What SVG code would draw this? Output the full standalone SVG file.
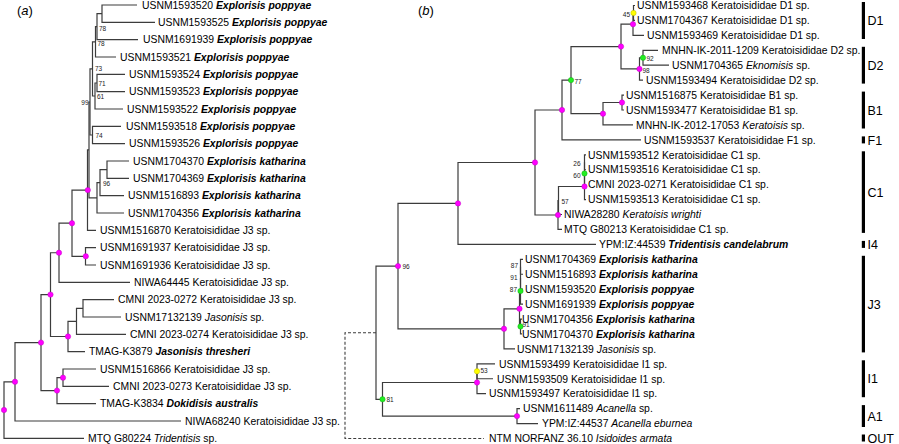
<svg xmlns="http://www.w3.org/2000/svg" width="899" height="444" viewBox="0 0 899 444">
<style>
text{font-family:"Liberation Sans",Arial,Helvetica,sans-serif;fill:#000}
.t{font-size:10.4px}
.bi{font-weight:bold;font-style:italic}
.i{font-style:italic}
.s{font-size:6.5px;fill:#222}
.pl{font-size:13px}
.cl{font-size:12.5px}
.br{stroke:#3c3c3c;stroke-width:1.2;fill:none}
.ds{stroke:#3c3c3c;stroke-width:1.1;fill:none;stroke-dasharray:3 2}
.mg{fill:#ff00ff;stroke:#b400b4;stroke-width:0.4}
.gr{fill:#22ee22;stroke:#119911;stroke-width:0.4}
.yl{fill:#ffff00;stroke:#aaaa00;stroke-width:0.4}
.bar{stroke:#000;stroke-width:3.2}
</style>

<text class="pl" x="17" y="14.5">(<tspan class="i">a</tspan>)</text>
<text class="pl" x="418" y="14.5">(<tspan class="i">b</tspan>)</text>

<!-- ===== Panel (a) connectors ===== -->
<g id="connectors-a">
<path class="br" d="M137,5 H102 V22.3 H155"/>
<path class="br" d="M102,13.65 H97 V39.7 H138"/>
<path class="br" d="M97,26.7 H95.5 V57 H116"/>
<path class="br" d="M125,74.3 H97 V91.7 H125"/>
<path class="br" d="M97,83 H95 V109 H123"/>
<path class="br" d="M95.5,41.85 H92.5 V96 H95"/>
<path class="br" d="M121,126.3 H92.5 V143.6 H125"/>
<path class="br" d="M92.5,68.9 H90 V135 H92.5"/>
<path class="br" d="M129,161 H107 V178.3 H129"/>
<path class="br" d="M107,169.65 H100 V195.6 H124"/>
<path class="br" d="M100,182.6 H97 V213 H124"/>
<path class="br" d="M90,102 H89 V197.8 H97"/>
<path class="br" d="M89,149.9 H87.5 V230.3 H96"/>
<path class="br" d="M96,247.6 H85.5 V265 H96"/>
<path class="br" d="M87.5,190.1 H72 V256.3 H85.5"/>
<path class="br" d="M72,223.2 H59 V282.3 H130"/>
<path class="br" d="M114,299.6 H83 V317 H121"/>
<path class="br" d="M83,308.3 H76.5 V334.3 H126"/>
<path class="br" d="M76.5,321.3 H68 V351.6 H85"/>
<path class="br" d="M59,252.75 H50.5 V336.5 H68"/>
<path class="br" d="M96,369 H63 V386.3 H109"/>
<path class="br" d="M63,377.65 H57 V403.6 H96"/>
<path class="br" d="M50.5,294.6 H41 V390.6 H57"/>
<path class="br" d="M41,342.6 H15 V421 H181"/>
<path class="br" d="M15,381.8 H4 V438.3 H84"/>
</g>

<!-- Panel (a) internal nodes -->
<g id="a-nodes">
<g id="a-n-B"><text class="s" x="99" y="30.5">78</text></g>
<g id="a-n-C"><text class="s" x="97.5" y="45.5">78</text></g>
<g id="a-n-F"><text class="s" x="95" y="71">73</text></g>
<g id="a-n-D"><text class="s" x="98.5" y="85.5">71</text></g>
<g id="a-n-E"><text class="s" x="97" y="99">61</text></g>
<g id="a-n-H"><text class="s" x="88.5" y="105" text-anchor="end">99</text></g>
<g id="a-n-G"><text class="s" x="95.5" y="138">74</text></g>
<g id="a-n-J"><text class="s" x="103" y="185.5">96</text></g>
<g id="a-n-Q"><circle class="mg" cx="87.8" cy="190.1" r="2.7"/></g>
<g id="a-n-R"><circle class="mg" cx="85.8" cy="256.3" r="2.7"/></g>
<g id="a-n-S"><circle class="mg" cx="72" cy="223.2" r="2.7"/></g>
<g id="a-n-T"><circle class="mg" cx="59" cy="252.75" r="2.7"/></g>
<g id="a-n-U"><circle class="mg" cx="68" cy="336.5" r="2.7"/></g>
<g id="a-n-X"><circle class="mg" cx="50.5" cy="294.6" r="2.7"/></g>
<g id="a-n-AA"><circle class="mg" cx="63" cy="377.65" r="2.7"/></g>
<g id="a-n-Z"><circle class="mg" cx="57" cy="390.6" r="2.7"/></g>
<g id="a-n-Y"><circle class="mg" cx="41" cy="342.6" r="2.7"/></g>
<g id="a-n-BB"><circle class="mg" cx="15" cy="381.8" r="2.7"/></g>
<g id="a-n-CC"><circle class="mg" cx="4" cy="410" r="2.7"/></g>
</g>

<!-- Panel (a) tips -->
<g id="a-tips">
<g id="a-t1"><text class="t" x="142" y="8.7">USNM1593520 <tspan class="bi">Explorisis poppyae</tspan></text></g>
<g id="a-t2"><text class="t" x="158" y="26">USNM1593525 <tspan class="bi">Explorisis poppyae</tspan></text></g>
<g id="a-t3"><text class="t" x="143" y="43.4">USNM1691939 <tspan class="bi">Explorisis poppyae</tspan></text></g>
<g id="a-t4"><text class="t" x="120" y="60.7">USNM1593521 <tspan class="bi">Explorisis poppyae</tspan></text></g>
<g id="a-t5"><text class="t" x="129" y="78">USNM1593524 <tspan class="bi">Explorisis poppyae</tspan></text></g>
<g id="a-t6"><text class="t" x="129" y="95.4">USNM1593523 <tspan class="bi">Explorisis poppyae</tspan></text></g>
<g id="a-t7"><text class="t" x="127" y="112.7">USNM1593522 <tspan class="bi">Explorisis poppyae</tspan></text></g>
<g id="a-t8"><text class="t" x="126" y="130">USNM1593518 <tspan class="bi">Explorisis poppyae</tspan></text></g>
<g id="a-t9"><text class="t" x="129" y="147.3">USNM1593526 <tspan class="bi">Explorisis poppyae</tspan></text></g>
<g id="a-t10"><text class="t" x="133" y="164.7">USNM1704370 <tspan class="bi">Explorisis katharina</tspan></text></g>
<g id="a-t11"><text class="t" x="133" y="182">USNM1704369 <tspan class="bi">Explorisis katharina</tspan></text></g>
<g id="a-t12"><text class="t" x="128" y="199.3">USNM1516893 <tspan class="bi">Explorisis katharina</tspan></text></g>
<g id="a-t13"><text class="t" x="128" y="216.7">USNM1704356 <tspan class="bi">Explorisis katharina</tspan></text></g>
<g id="a-t14"><text class="t" x="100" y="234">USNM1516870 Keratoisididae J3 sp.</text></g>
<g id="a-t15"><text class="t" x="100" y="251.3">USNM1691937 Keratoisididae J3 sp.</text></g>
<g id="a-t16"><text class="t" x="100" y="268.7">USNM1691936 Keratoisididae J3 sp.</text></g>
<g id="a-t17"><text class="t" x="134" y="286">NIWA64445 Keratoisididae J3 sp.</text></g>
<g id="a-t18"><text class="t" x="118" y="303.3">CMNI 2023-0272 Keratoisididae J3 sp.</text></g>
<g id="a-t19"><text class="t" x="125" y="320.7">USNM17132139 <tspan class="i">Jasonisis</tspan> sp.</text></g>
<g id="a-t20"><text class="t" x="130" y="338">CMNI 2023-0274 Keratoisididae J3 sp.</text></g>
<g id="a-t21"><text class="t" x="89" y="355.3">TMAG-K3879 <tspan class="bi">Jasonisis thresheri</tspan></text></g>
<g id="a-t22"><text class="t" x="100" y="372.7">USNM1516866 Keratoisididae J3 sp.</text></g>
<g id="a-t23"><text class="t" x="113" y="390">CMNI 2023-0273 Keratoisididae J3 sp.</text></g>
<g id="a-t24"><text class="t" x="100" y="407.3">TMAG-K3834 <tspan class="bi">Dokidisis australis</tspan></text></g>
<g id="a-t25"><text class="t" x="185" y="424.7">NIWA68240 Keratoisididae J3 sp.</text></g>
<g id="a-t26"><text class="t" x="88" y="442">MTQ G80224 <tspan class="i">Tridentisis</tspan> sp.</text></g>
</g>

<!-- ===== Panel (b) connectors ===== -->
<g id="connectors-b">
<path class="br" d="M635,5.5 H633.5 V20.43 H635"/>
<path class="br" d="M633.5,12.97 H633 V35.36 H644"/>
<path class="br" d="M658,50.29 H643 V65.22 H669"/>
<path class="br" d="M643,57.76 H639.5 V80.15 H643"/>
<path class="br" d="M633,24.17 H621 V68.96 H639.5"/>
<path class="br" d="M624,95.08 H622 V110.01 H624"/>
<path class="br" d="M622,102.5 H603 V124.94 H633"/>
<path class="br" d="M621,46.56 H571 V113.7 H603"/>
<path class="br" d="M571,80.1 H562 V139.87 H641"/>
<path class="br" d="M586,154.8 H584.5 V169.73 H586"/>
<path class="br" d="M584.5,162.27 V184.66 H586"/>
<path class="br" d="M584.5,173.46 V199.59 H586"/>
<path class="br" d="M584.5,186.5 H558.5 V214.52 H562"/>
<path class="br" d="M558.5,200.5 H558 V229.45 H562"/>
<path class="br" d="M562,110 H535 V215 H558"/>
<path class="br" d="M535,162.5 H458 V244.38 H596"/>
<path class="br" d="M523,259.31 H520.5 V274.24 H523"/>
<path class="br" d="M520.5,266.8 V289.17 H523"/>
<path class="br" d="M520.5,278 V304.1 H523"/>
<path class="br" d="M522,319.03 H520.5 V333.96 H522"/>
<path class="br" d="M520.5,291 H519.5 V326.5 H520.5"/>
<path class="br" d="M519.5,308.8 H504 V348.89 H515"/>
<path class="br" d="M458,203.4 H398 V328.8 H504"/>
<path class="br" d="M495,363.82 H477 V378.75 H493"/>
<path class="br" d="M477,371.3 V393.68 H486"/>
<path class="br" d="M520,408.61 H517 V423.54 H538"/>
<path class="br" d="M477,382.5 H382.5 V416.1 H517"/>
<path class="br" d="M398,266.1 H376 V399.3 H382.5"/>
<path class="ds" d="M376,332.7 H345 V438.47 H484"/>
</g>

<!-- Panel (b) internal nodes -->
<g id="b-nodes">
<g id="b-n-12"><circle class="yl" cx="633.5" cy="12.97" r="2.7"/><text class="s" x="630" y="16.5" text-anchor="end">45</text></g>
<g id="b-n-D1"><circle class="mg" cx="633" cy="24.17" r="2.7"/></g>
<g id="b-n-45"><circle class="gr" cx="643" cy="57.76" r="2.7"/><text class="s" x="646.5" y="61">92</text></g>
<g id="b-n-D2"><circle class="mg" cx="639.5" cy="68.96" r="2.7"/><text class="s" x="642.5" y="73">98</text></g>
<g id="b-n-DD"><circle class="mg" cx="621" cy="46.56" r="2.7"/></g>
<g id="b-n-78"><circle class="mg" cx="622" cy="102.5" r="2.7"/></g>
<g id="b-n-B1"><circle class="mg" cx="603" cy="113.7" r="2.7"/></g>
<g id="b-n-EE"><circle class="gr" cx="571" cy="80.1" r="2.7"/><text class="s" x="574.5" y="83.5">77</text></g>
<g id="b-n-FF"><circle class="mg" cx="562" cy="110" r="2.7"/></g>
<g id="b-n-c12"><text class="s" x="580.5" y="166" text-anchor="end">26</text></g>
<g id="b-n-c13"><circle class="gr" cx="584.5" cy="173.46" r="2.7"/><text class="s" x="580.5" y="177.5" text-anchor="end">60</text></g>
<g id="b-n-c14"><circle class="mg" cx="584.5" cy="186.5" r="2.7"/></g>
<g id="b-n-c15"><text class="s" x="561.5" y="203.5">57</text></g>
<g id="b-n-c16"><circle class="mg" cx="558" cy="215" r="2.7"/></g>
<g id="b-n-GG"><circle class="mg" cx="535" cy="162.5" r="2.7"/></g>
<g id="b-n-HH"><circle class="mg" cx="458" cy="203.4" r="2.7"/></g>
<g id="b-n-j19"><text class="s" x="518" y="268" text-anchor="end">87</text></g>
<g id="b-n-j20"><text class="s" x="517.5" y="280" text-anchor="end">91</text></g>
<g id="b-n-j21"><circle class="gr" cx="520.5" cy="291" r="2.7"/><text class="s" x="517" y="292" text-anchor="end">87</text></g>
<g id="b-n-j23"><circle class="gr" cx="520.5" cy="326.5" r="2.7"/><text class="s" x="522.5" y="327">91</text></g>
<g id="b-n-KK"><circle class="mg" cx="519.5" cy="308.8" r="2.7"/></g>
<g id="b-n-JJ"><circle class="mg" cx="504" cy="328.8" r="2.7"/></g>
<g id="b-n-II"><circle class="mg" cx="398" cy="266.1" r="2.7"/><text class="s" x="402.5" y="268.5">96</text></g>
<g id="b-n-i26"><circle class="yl" cx="477" cy="371.3" r="2.7"/><text class="s" x="480.5" y="373">53</text></g>
<g id="b-n-i27"><circle class="mg" cx="477" cy="382.5" r="2.7"/></g>
<g id="b-n-a29"><circle class="mg" cx="517" cy="416.1" r="2.7"/></g>
<g id="b-n-LL"><circle class="gr" cx="382.5" cy="399.3" r="2.7"/><text class="s" x="386.5" y="402">81</text></g>
</g>

<!-- Panel (b) tips -->
<g id="b-tips">
<g id="b-t1"><text class="t" x="637" y="9.2">USNM1593468 Keratoisididae D1 sp.</text></g>
<g id="b-t2"><text class="t" x="637" y="24.1">USNM1704367 Keratoisididae D1 sp.</text></g>
<g id="b-t3"><text class="t" x="647" y="39.1">USNM1593469 Keratoisididae D1 sp.</text></g>
<g id="b-t4"><text class="t" x="662" y="54">MNHN-IK-2011-1209 Keratoisididae D2 sp.</text></g>
<g id="b-t5"><text class="t" x="672" y="68.9">USNM1704365 <tspan class="i">Eknomisis</tspan> sp.</text></g>
<g id="b-t6"><text class="t" x="646" y="83.9">USNM1593494 Keratoisididae D2 sp.</text></g>
<g id="b-t7"><text class="t" x="626" y="98.8">USNM1516875 Keratoisididae B1 sp.</text></g>
<g id="b-t8"><text class="t" x="626" y="113.7">USNM1593477 Keratoisididae B1 sp.</text></g>
<g id="b-t9"><text class="t" x="636" y="128.6">MNHN-IK-2012-17053 <tspan class="i">Keratoisis</tspan> sp.</text></g>
<g id="b-t10"><text class="t" x="644" y="143.6">USNM1593537 Keratoisididae F1 sp.</text></g>
<g id="b-t11"><text class="t" x="588" y="158.5">USNM1593512 Keratoisididae C1 sp.</text></g>
<g id="b-t12"><text class="t" x="588" y="173.4">USNM1593516 Keratoisididae C1 sp.</text></g>
<g id="b-t13"><text class="t" x="588" y="188.4">CMNI 2023-0271 Keratoisididae C1 sp.</text></g>
<g id="b-t14"><text class="t" x="588" y="203.3">USNM1593513 Keratoisididae C1 sp.</text></g>
<g id="b-t15"><text class="t" x="564" y="218.2">NIWA28280 <tspan class="i">Keratoisis wrighti</tspan></text></g>
<g id="b-t16"><text class="t" x="564" y="233.2">MTQ G80213 Keratoisididae C1 sp.</text></g>
<g id="b-t17"><text class="t" x="599" y="248.1">YPM:IZ:44539 <tspan class="bi">Tridentisis candelabrum</tspan></text></g>
<g id="b-t18"><text class="t" x="525" y="263">USNM1704369 <tspan class="bi">Explorisis katharina</tspan></text></g>
<g id="b-t19"><text class="t" x="525" y="277.9">USNM1516893 <tspan class="bi">Explorisis katharina</tspan></text></g>
<g id="b-t20"><text class="t" x="525" y="292.9">USNM1593520 <tspan class="bi">Explorisis poppyae</tspan></text></g>
<g id="b-t21"><text class="t" x="525" y="307.8">USNM1691939 <tspan class="bi">Explorisis poppyae</tspan></text></g>
<g id="b-t22"><text class="t" x="522" y="322.7">USNM1704356 <tspan class="bi">Explorisis katharina</tspan></text></g>
<g id="b-t23"><text class="t" x="522" y="337.7">USNM1704370 <tspan class="bi">Explorisis katharina</tspan></text></g>
<g id="b-t24"><text class="t" x="517" y="352.6">USNM17132139 <tspan class="i">Jasonisis</tspan> sp.</text></g>
<g id="b-t25"><text class="t" x="499" y="367.5">USNM1593499 Keratoisididae I1 sp.</text></g>
<g id="b-t26"><text class="t" x="497" y="382.5">USNM1593509 Keratoisididae I1 sp.</text></g>
<g id="b-t27"><text class="t" x="489" y="397.4">USNM1593497 Keratoisididae I1 sp.</text></g>
<g id="b-t28"><text class="t" x="523" y="412.3">USNM1611489 <tspan class="i">Acanella</tspan> sp.</text></g>
<g id="b-t29"><text class="t" x="542" y="427.2">YPM:IZ:44537 <tspan class="i">Acanella eburnea</tspan></text></g>
<g id="b-t30"><text class="t" x="489" y="442.2">NTM NORFANZ 36.10 <tspan class="i">Isidoides armata</tspan></text></g>
</g>

<!-- Clade bars -->
<g id="clades">
<g id="cl-D1"><line class="bar" x1="863.4" y1="2" x2="863.4" y2="39"/><text class="cl" x="867.5" y="25">D1</text></g>
<g id="cl-D2"><line class="bar" x1="863.4" y1="46.8" x2="863.4" y2="83.6"/><text class="cl" x="867.5" y="69.7">D2</text></g>
<g id="cl-B1"><line class="bar" x1="863.4" y1="91.6" x2="863.4" y2="128.5"/><text class="cl" x="867.5" y="114.5">B1</text></g>
<g id="cl-F1"><line class="bar" x1="863.4" y1="136.4" x2="863.4" y2="143.4"/><text class="cl" x="867.5" y="144.5">F1</text></g>
<g id="cl-C1"><line class="bar" x1="863.4" y1="151.3" x2="863.4" y2="232.9"/><text class="cl" x="867.5" y="196.5">C1</text></g>
<g id="cl-I4"><line class="bar" x1="863.4" y1="240.9" x2="863.4" y2="247.9"/><text class="cl" x="867.5" y="249">I4</text></g>
<g id="cl-J3"><line class="bar" x1="863.4" y1="255.8" x2="863.4" y2="352.4"/><text class="cl" x="867.5" y="308.5">J3</text></g>
<g id="cl-I1"><line class="bar" x1="863.4" y1="360.3" x2="863.4" y2="397.2"/><text class="cl" x="867.5" y="383.2">I1</text></g>
<g id="cl-A1"><line class="bar" x1="863.4" y1="405.1" x2="863.4" y2="427"/><text class="cl" x="867.5" y="420.5">A1</text></g>
<g id="cl-OUT"><line class="bar" x1="863.4" y1="434.5" x2="863.4" y2="441.5"/><text class="cl" x="867.5" y="442.5">OUT</text></g>
</g>
</svg>
